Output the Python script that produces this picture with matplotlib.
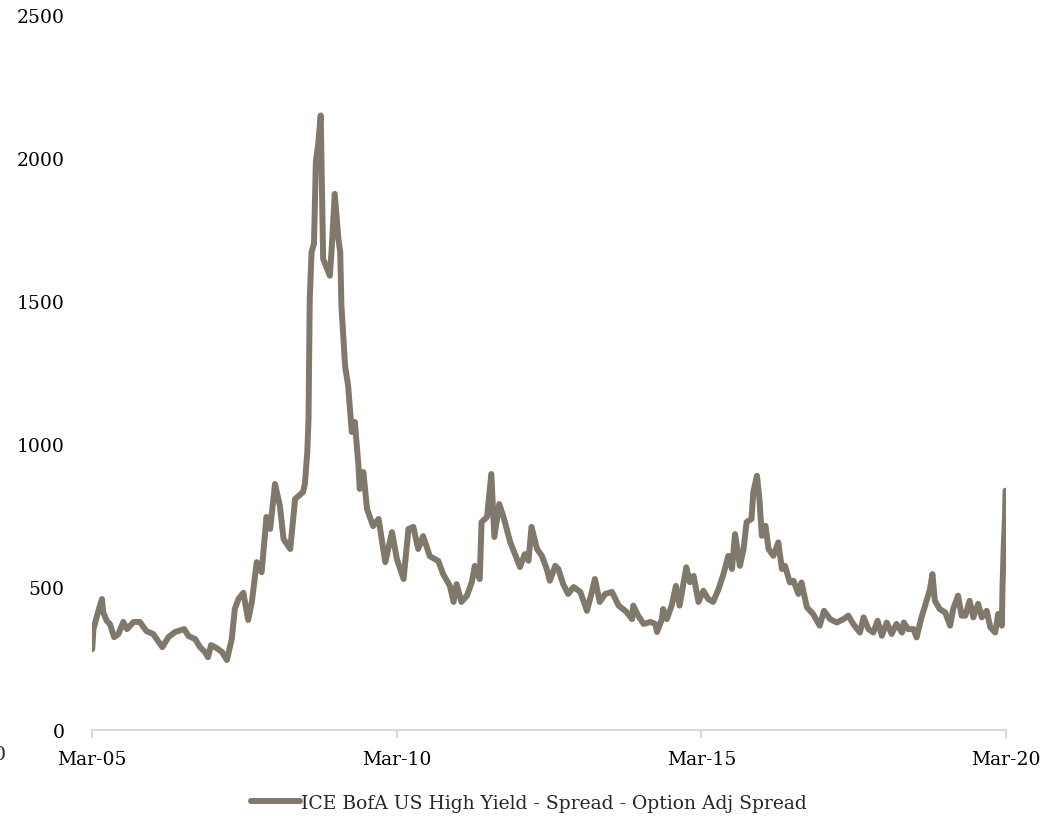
import matplotlib
matplotlib.use('Agg')
import matplotlib.pyplot as plt

# font / style
plt.rcParams['font.family'] = 'DejaVu Serif'
plt.rcParams['font.size'] = 13.5
plt.rcParams['text.color'] = '#262626'

# data (decimal year, spread in bp)
years = [
    2005.17, 2005.19, 2005.27, 2005.33, 2005.35, 2005.41, 2005.46, 2005.53, 2005.60, 2005.68,
    2005.74, 2005.85, 2005.95, 2006.06, 2006.17, 2006.32, 2006.42, 2006.53, 2006.68, 2006.75,
    2006.86, 2006.94, 2007.02, 2007.07, 2007.12, 2007.21, 2007.30, 2007.38, 2007.46, 2007.51,
    2007.57, 2007.65, 2007.73, 2007.79, 2007.87, 2007.95, 2008.03, 2008.09, 2008.17, 2008.25,
    2008.31, 2008.42, 2008.50, 2008.63, 2008.66, 2008.70, 2008.72, 2008.73, 2008.74, 2008.77,
    2008.81, 2008.84, 2008.88, 2008.92, 2008.96, 2009.01, 2009.07, 2009.10, 2009.15, 2009.21,
    2009.24, 2009.26, 2009.32, 2009.37, 2009.43, 2009.48, 2009.54, 2009.56, 2009.62, 2009.68,
    2009.78, 2009.87, 2009.98, 2010.09, 2010.17, 2010.28, 2010.36, 2010.44, 2010.52, 2010.60,
    2010.71, 2010.85, 2010.93, 2011.04, 2011.10, 2011.15, 2011.23, 2011.32, 2011.40, 2011.45,
    2011.53, 2011.56, 2011.65, 2011.72, 2011.77, 2011.85, 2011.92, 2012.03, 2012.14, 2012.19,
    2012.27, 2012.33, 2012.38, 2012.47, 2012.55, 2012.63, 2012.68, 2012.77, 2012.82, 2012.90,
    2012.98, 2013.07, 2013.18, 2013.29, 2013.37, 2013.42, 2013.50, 2013.59, 2013.70, 2013.81,
    2013.94, 2014.03, 2014.05, 2014.13, 2014.22, 2014.33, 2014.41, 2014.44, 2014.52, 2014.54,
    2014.60, 2014.68, 2014.75, 2014.81, 2014.92, 2014.98, 2015.04, 2015.12, 2015.20, 2015.28,
    2015.36, 2015.45, 2015.53, 2015.61, 2015.67, 2015.72, 2015.80, 2015.86, 2015.91, 2015.99,
    2016.02, 2016.08, 2016.12, 2016.16, 2016.22, 2016.27, 2016.35, 2016.43, 2016.49, 2016.54,
    2016.62, 2016.68, 2016.76, 2016.81, 2016.90, 2017.00, 2017.11, 2017.18, 2017.28, 2017.39,
    2017.50, 2017.58, 2017.66, 2017.77, 2017.83, 2017.91, 2017.99, 2018.06, 2018.13, 2018.21,
    2018.29, 2018.37, 2018.46, 2018.49, 2018.56, 2018.65, 2018.70, 2018.78, 2018.84, 2018.92,
    2018.96, 2019.00, 2019.08, 2019.17, 2019.25, 2019.30, 2019.38, 2019.44, 2019.50, 2019.57,
    2019.63, 2019.71, 2019.77, 2019.85, 2019.91, 2019.99, 2020.04, 2020.10, 2020.11, 2020.13,
    2020.15, 2020.16,
]
spread = [
    283, 353, 416, 458, 412, 381, 371, 325, 336, 378,
    353, 378, 378, 346, 336, 290, 325, 343, 353, 329,
    318, 290, 273, 255, 297, 287, 273, 245, 318, 423,
    458, 480, 385, 448, 587, 552, 745, 703, 860, 784,
    668, 633, 808, 832, 860, 972, 1087, 1300, 1507, 1671,
    1700, 1986, 2050, 2148, 1647, 1620, 1588, 1682, 1874, 1717,
    1671, 1483, 1273, 1203, 1042, 1077, 923, 843, 902, 773,
    713, 738, 587, 692, 598, 528, 703, 710, 633, 678,
    608, 591, 545, 504, 448, 510, 448, 470, 517, 574,
    528, 727, 745, 895, 675, 790, 745, 657, 598, 570,
    615, 592, 710, 633, 609, 563, 522, 574, 563, 510,
    476, 500, 483, 417, 483, 528, 448, 476, 483, 435,
    413, 388, 435, 400, 371, 378, 371, 343, 388, 423,
    388, 435, 504, 435, 569, 517, 539, 448, 487, 458,
    448, 493, 545, 609, 563, 685, 574, 633, 727, 738,
    832, 889, 808, 679, 714, 633, 609, 656, 563, 574,
    516, 522, 476, 516, 429, 406, 365, 417, 388, 376,
    388, 400, 371, 341, 394, 353, 341, 382, 330, 376,
    336, 371, 341, 376, 353, 353, 324, 394, 435, 493,
    545, 452, 423, 411, 365, 423, 470, 400, 400, 452,
    394, 441, 394, 417, 359, 341, 406, 365, 500, 640,
    740, 837,
]
tick_years = [2005.167, 2010.167, 2015.167, 2020.167]
tick_labels = ['Mar-05', 'Mar-10', 'Mar-15', 'Mar-20']
y_ticks = [0, 500, 1000, 1500, 2000, 2500]
series_name = 'ICE BofA US High Yield - Spread - Option Adj Spread'

fig = plt.figure(figsize=(10.58, 8.28), dpi=100)
ax = fig.add_axes([0.087, 0.117, 0.864, 0.864])

ax.plot(years, spread, color='#7f786b', lw=4.3, solid_joinstyle='round',
        solid_capstyle='round', label=series_name)

ax.set_xlim(2005.167, 2020.17)
ax.set_ylim(0, 2500)
ax.set_xticks(tick_years)
ax.set_xticklabels(tick_labels)
ax.set_yticks(y_ticks)

for s in ['top', 'right', 'left']:
    ax.spines[s].set_visible(False)
ax.spines['bottom'].set_color('#d9d9d9')
ax.spines['bottom'].set_linewidth(1.5)
ax.tick_params(axis='x', direction='out', length=6, width=1.5, color='#d9d9d9', pad=8)
ax.tick_params(axis='y', length=0, pad=20)

# stray label clipped at the left edge (as in the original)
fig.text(0.0, 1 - 755 / 828, '0', ha='center', va='center')

ax.legend(loc='lower center', bbox_to_anchor=(0.5, 0.0), bbox_transform=fig.transFigure,
          frameon=False, handlelength=2.6, handletextpad=0.05, borderaxespad=0.4)

plt.savefig('out.png', dpi=100)
